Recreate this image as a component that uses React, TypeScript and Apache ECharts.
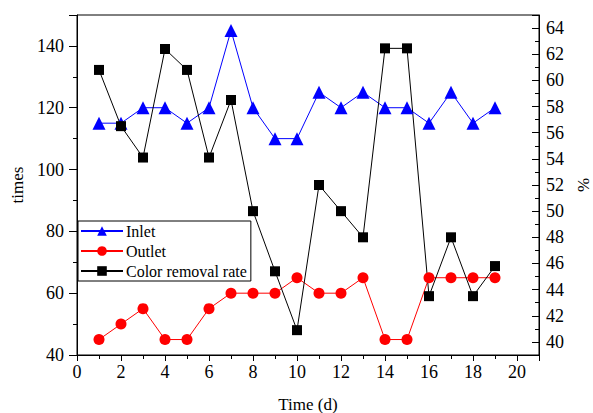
import React, { useEffect, useRef } from "react";
import * as echarts from "echarts";

const days = [1, 2, 3, 4, 5, 6, 7, 8, 9, 10, 11, 12, 13, 14, 15, 16, 17, 18, 19];
const inlet = [115, 115, 120, 120, 115, 120, 145, 120, 110, 110, 125, 120, 125, 120, 120, 115, 125, 115, 120];
const outlet = [45, 50, 55, 45, 45, 55, 60, 60, 60, 65, 60, 60, 65, 45, 45, 65, 65, 65, 65];
const removal = [60.8, 56.5, 54.1, 62.4, 60.8, 54.1, 58.5, 50.0, 45.4, 40.9, 52.0, 50.0, 48.0, 62.45, 62.45, 43.5, 48.0, 43.5, 45.8];

const FONT = "Liberation Serif";

export default function App() {
  const ref = useRef<HTMLDivElement>(null);
  useEffect(() => {
    const chart = echarts.init(ref.current!, null, { renderer: "svg" });
    const pair = (arr: number[]) => days.map((d, i) => [d, arr[i]]);
    const label = { color: "#000", fontSize: 17, fontFamily: FONT };
    chart.setOption({
      animation: false,
      backgroundColor: "#fff",
      textStyle: { fontFamily: FONT, fontSize: 17, color: "#000" },
      grid: {
        left: 77, right: 54, top: 15, bottom: 58,
        show: true, borderColor: "#000", borderWidth: 1,
        containLabel: false, outerBoundsMode: "none",
      },
      legend: {
        left: 78,
        top: 221,
        orient: "vertical",
        borderColor: "#000",
        borderWidth: 1,
        borderRadius: 0,
        padding: [2, 4, 2, 2],
        itemWidth: 42,
        itemHeight: 12,
        itemGap: 4,
        textStyle: { fontFamily: FONT, fontSize: 16, color: "#000", padding: [0, 0, 0, -2] },
        data: ["Inlet", "Outlet", "Color removal rate"],
      },
      xAxis: {
        type: "value",
        min: 0,
        max: 21,
        interval: 2,
        name: "Time (d)",
        nameLocation: "middle",
        nameGap: 41,
        nameTextStyle: label,
        axisLine: { show: true, lineStyle: { color: "#000", width: 1 } },
        axisTick: { show: true, inside: false, length: 6, lineStyle: { color: "#000" } },
        minorTick: { show: true, splitNumber: 2, length: 4, lineStyle: { color: "#000" } },
        axisLabel: { color: "#000", fontSize: 18, fontFamily: FONT, margin: 8, showMaxLabel: false },
        splitLine: { show: false },
      },
      yAxis: [
        {
          type: "value",
          min: 40,
          max: 150,
          interval: 20,
          position: "left",
          name: "times",
          nameLocation: "middle",
          nameRotate: 90,
          nameGap: 50,
          nameTextStyle: label,
          axisLine: { show: true, lineStyle: { color: "#000", width: 1 } },
          axisTick: { show: true, inside: false, length: 8, lineStyle: { color: "#000" } },
          minorTick: { show: true, splitNumber: 2, length: 4, lineStyle: { color: "#000" } },
          axisLabel: { color: "#000", fontSize: 18, fontFamily: FONT, margin: 13, showMaxLabel: false },
          splitLine: { show: false },
        },
        {
          type: "value",
          min: 39,
          max: 65,
          splitNumber: 13,
          minInterval: 2,
          maxInterval: 2,
          position: "right",
          name: "%",
          nameLocation: "middle",
          nameRotate: 90,
          nameGap: 34,
          nameTextStyle: label,
          axisLine: { show: true, lineStyle: { color: "#000", width: 1 } },
          axisTick: { show: true, inside: true, length: 7, lineStyle: { color: "#000" } },
          minorTick: { show: true, splitNumber: 2, length: 4, lineStyle: { color: "#000" } },
          axisLabel: { color: "#000", fontSize: 18, fontFamily: FONT, margin: 7, showMaxLabel: false, showMinLabel: false },
          splitLine: { show: false },
        },
      ],
      series: [
        {
          name: "Inlet",
          type: "line",
          yAxisIndex: 0,
          data: pair(inlet),
          symbol: "triangle",
          symbolSize: 13,
          itemStyle: { color: "#0000ff" },
          lineStyle: { color: "#0000ff", width: 1 },
        },
        {
          name: "Outlet",
          type: "line",
          yAxisIndex: 0,
          data: pair(outlet),
          symbol: "circle",
          symbolSize: 11,
          itemStyle: { color: "#ff0000" },
          lineStyle: { color: "#ff0000", width: 1 },
        },
        {
          name: "Color removal rate",
          type: "line",
          yAxisIndex: 1,
          data: pair(removal),
          symbol: "rect",
          symbolSize: 10,
          itemStyle: { color: "#000" },
          lineStyle: { color: "#000", width: 1 },
        },
      ],
    });
    return () => chart.dispose();
  }, []);
  return <div ref={ref} style={{ width: 593, height: 413, position: "absolute", left: 0, top: 0 }} />;
}
